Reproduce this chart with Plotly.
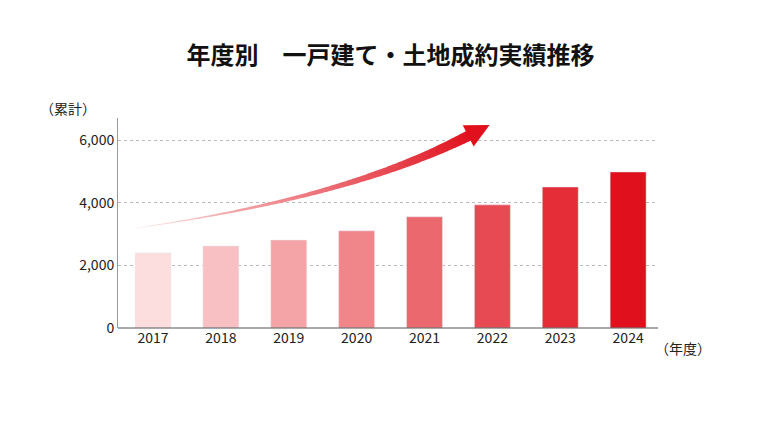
import plotly.graph_objects as go
import numpy as np

years = ["2017","2018","2019","2020","2021","2022","2023","2024"]
values = [2400, 2620, 2810, 3100, 3550, 3930, 4500, 4980]
ytick_vals = [0, 2000, 4000, 6000]
ytick_text = ["0", "2,000", "4,000", "6,000"]

def lerp(c1, c2, t):
    return "rgb(%d,%d,%d)" % tuple(int(a + (b - a) * t) for a, b in zip(c1, c2))

light = (252, 222, 222)
dark = (224, 16, 28)
n = len(years)
colors = [lerp(light, dark, i / (n - 1)) for i in range(n)]

fig = go.Figure(go.Bar(x=list(range(n)), y=values, marker_color=colors, width=0.53))

L, R, T, B = 110, 650, 110, 320
def P(px, py):
    return (px - L) / (R - L), (B - py) / (B - T)

shapes = []
p0, c, p2 = np.array([128, 220.]), np.array([340, 190.]), np.array([462, 127.])
N = 60
ts = np.linspace(0, 1, N + 1)
pts = [(1 - t) ** 2 * p0 + 2 * (1 - t) * t * c + t ** 2 * p2 for t in ts]
for i in range(N):
    a, b = pts[i], pts[i + 1]
    d = b - a
    d = d / np.linalg.norm(d)
    nrm = np.array([-d[1], d[0]])
    w0 = 0.3 + 5 * (ts[i]) ** 1.3
    w1 = 0.3 + 5 * (ts[i + 1]) ** 1.3
    q = [a + nrm * w0, b + nrm * w1 + d * 0.6, b - nrm * w1 + d * 0.6, a - nrm * w0]
    path = "M " + " L ".join("%f,%f" % P(*p) for p in q) + " Z"
    col = lerp((253, 235, 235), dark, ts[i] ** 0.8)
    shapes.append(dict(type="path", path=path, xref="paper", yref="paper",
                       fillcolor=col, line=dict(width=0), layer="above"))
d = pts[-1] - pts[-3]; d = d / np.linalg.norm(d); nrm = np.array([-d[1], d[0]])
base = pts[-1] - d * 2
tip = base + d * 24
h = [base + nrm * 12, tip, base - nrm * 12]
path = "M " + " L ".join("%f,%f" % P(*p) for p in h) + " Z"
shapes.append(dict(type="path", path=path, xref="paper", yref="paper",
                   fillcolor="rgb(224,16,28)", line=dict(width=0), layer="above"))
shapes.append(dict(type="line", xref="paper", yref="paper", x0=0, x1=1, y0=0, y1=0,
                   line=dict(color="#555", width=1)))

fig.update_layout(
    width=765, height=431, plot_bgcolor="white", paper_bgcolor="white",
    margin=dict(l=L, r=765 - R, t=T, b=431 - B, autoexpand=False),
    font=dict(family="Noto Sans CJK JP", size=14, color="#222"),
    showlegend=False, shapes=shapes,
    title=dict(text="<b>年度別　一戸建て・土地成約実績推移</b>", x=0.5, xanchor="center",
               y=1 - 48 / 431, yanchor="middle", font=dict(size=24, color="#111"),
               automargin=False),
    xaxis=dict(range=[-0.516, 7.44], tickmode="array", tickvals=list(range(n)), ticktext=years,
               showgrid=False, zeroline=False, ticks="", tickfont=dict(size=14), automargin=False),
    yaxis=dict(range=[0, 6702], tickvals=ytick_vals, ticktext=ytick_text, showgrid=True,
               gridcolor="#bbb", griddash="dot", zeroline=False, showline=True,
               linecolor="#999", linewidth=1, ticks="", tickfont=dict(size=14), automargin=False),
    annotations=[
        dict(text="（累計）", xref="paper", yref="paper", x=(30 - L) / (R - L), y=(B - 100) / (B - T),
             xanchor="left", yanchor="middle", showarrow=False, font=dict(size=14)),
        dict(text="（年度）", xref="paper", yref="paper", x=(645 - L) / (R - L), y=-(340 - B) / (B - T),
             xanchor="left", yanchor="middle", showarrow=False, font=dict(size=14)),
    ],
)
fig.write_html("out.html")
